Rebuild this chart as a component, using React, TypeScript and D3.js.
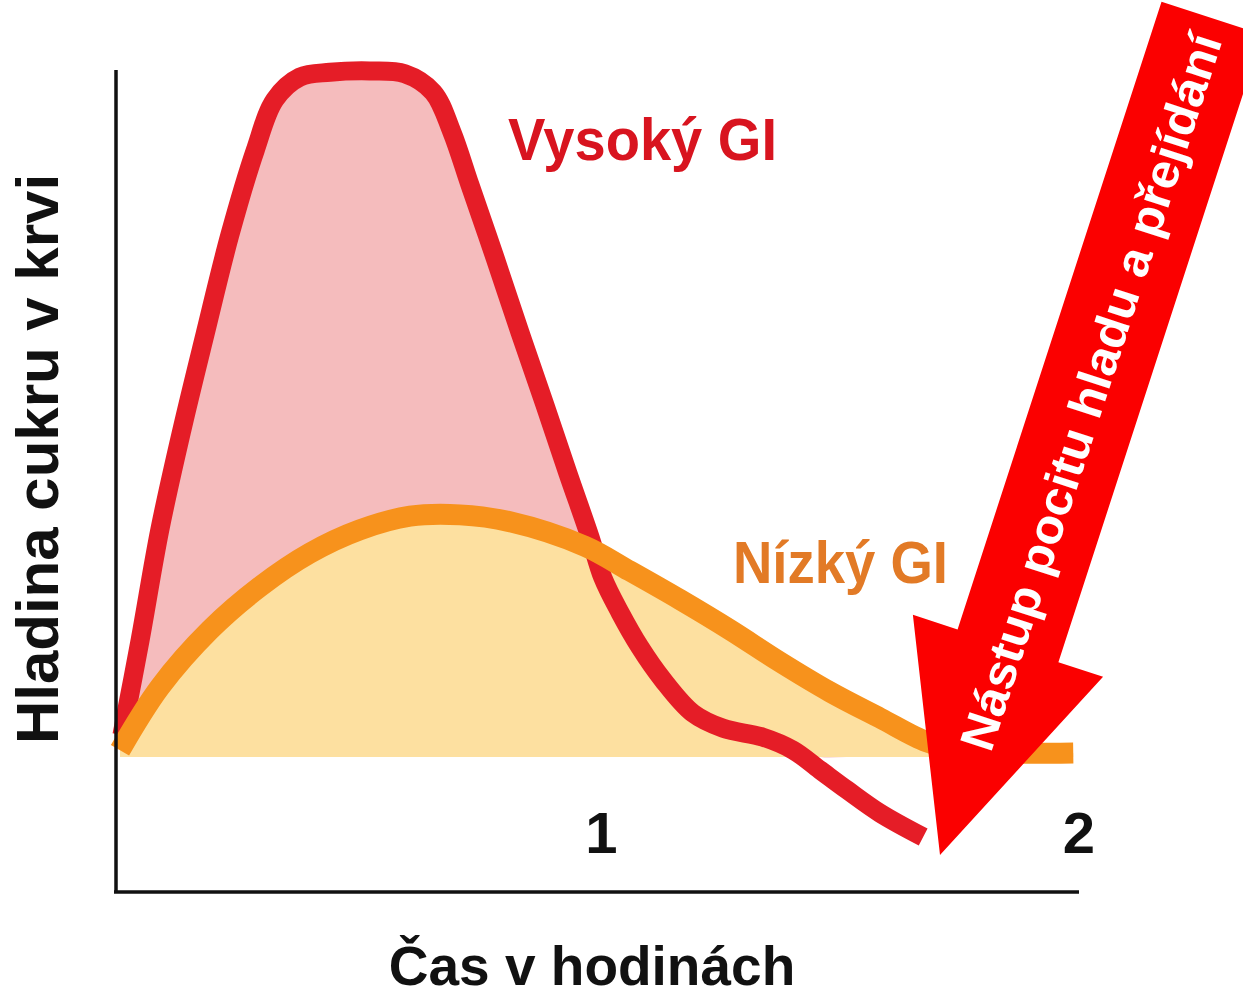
import React, { useEffect, useRef } from 'react';
import * as d3 from 'd3';

// hours after a meal vs. blood sugar (arbitrary units, 0 = fasting level)
const highGiTime = [0.004, 0.042, 0.083, 0.129, 0.177, 0.229, 0.282, 0.323, 0.375, 0.438, 0.521, 0.594, 0.653, 0.692, 0.73, 0.782, 0.834, 0.886, 0.934, 0.98, 1.007, 1.043, 1.084, 1.132, 1.195, 1.258, 1.341, 1.404, 1.46, 1.516, 1.585, 1.675];
const highGiLevel = [3.2, 17.1, 33.2, 47.8, 61.7, 76.3, 88.7, 96.1, 99.4, 100.1, 100.3, 99.9, 97.2, 91.4, 83.6, 73.0, 62.1, 51.5, 41.5, 32.2, 26.2, 21.1, 16.1, 11.3, 6.4, 4.2, 2.9, 1.0, -1.9, -4.8, -8.2, -11.7];

const lowGiTime = [0.0, 0.083, 0.188, 0.292, 0.396, 0.5, 0.605, 0.709, 0.813, 0.97, 1.063, 1.168, 1.272, 1.376, 1.481, 1.585, 1.683, 1.752, 1.835, 1.988];
const lowGiLevel = [1.0, 10.2, 18.6, 24.9, 29.8, 33.2, 35.2, 35.4, 34.4, 30.8, 27.2, 23.0, 18.6, 13.9, 9.5, 5.7, 2.2, 1.0, 0.6, 0.6];

const hourTicks = [1, 2];
const seriesLabels = ['Vysoký GI', 'Nízký GI'];
const arrowText = 'Nástup pocitu hladu a přejídání';
const yTitle = 'Hladina cukru v krvi';
const xTitle = 'Čas v hodinách';

function GlycemicChart({ width = 1243, height = 997 }) {
    const ref = useRef<SVGSVGElement>(null);

    useEffect(() => {
        const svg = d3.select(ref.current);
        svg.selectAll("*").remove();

        const font = "'Liberation Sans', Arial, sans-serif";

        const x = d3.scaleLinear().domain([0, 2]).range([120, 1079]);
        const y = d3.scaleLinear().domain([0, 100]).range([757, 73]);

        const high = highGiTime.map((t, i) => ({ t, v: highGiLevel[i] }));
        const low = lowGiTime.map((t, i) => ({ t, v: lowGiLevel[i] }));

        const curve = d3.curveCatmullRom.alpha(0.5);

        const line = d3.line<{ t: number; v: number }>()
            .x(d => x(d.t))
            .y(d => y(d.v))
            .curve(curve);

        const area = d3.area<{ t: number; v: number }>()
            .x(d => x(d.t))
            .y0(y(0))
            .y1(d => y(Math.max(d.v, 0)))
            .curve(curve);

        svg.attr("width", width).attr("height", height);

        // fills
        svg.append("path").datum(high).attr("d", area).attr("fill", "#f5bcbd");
        svg.append("path").datum(low).attr("d", area).attr("fill", "#fde0a0");

        // curves
        svg.append("path").datum(high).attr("d", line)
            .attr("fill", "none").attr("stroke", "#e51d27").attr("stroke-width", 19);
        svg.append("path").datum(low).attr("d", line)
            .attr("fill", "none").attr("stroke", "#f7921c").attr("stroke-width", 21);

        // axes
        svg.append("line")
            .attr("x1", 116).attr("x2", 116).attr("y1", 70).attr("y2", 893)
            .attr("stroke", "#111").attr("stroke-width", 3.5);
        svg.append("line")
            .attr("x1", 114).attr("x2", x(2)).attr("y1", 892).attr("y2", 892)
            .attr("stroke", "#111").attr("stroke-width", 3.5);

        svg.selectAll(".tick-label")
            .data(hourTicks)
            .enter().append("text")
            .attr("class", "tick-label")
            .attr("x", d => x(d) + (d === 1 ? 2 : 0))
            .attr("y", 853)
            .attr("text-anchor", "middle")
            .attr("font-family", font)
            .attr("font-weight", "bold")
            .attr("font-size", 58)
            .attr("fill", "#111")
            .text(d => d);

        svg.append("text")
            .attr("x", 592).attr("y", 985)
            .attr("text-anchor", "middle")
            .attr("font-family", font).attr("font-weight", "bold").attr("font-size", 55)
            .attr("fill", "#111")
            .text(xTitle);

        svg.append("text")
            .attr("transform", "translate(58,459) rotate(-90)")
            .attr("text-anchor", "middle")
            .attr("font-family", font).attr("font-weight", "bold").attr("font-size", 60)
            .attr("fill", "#111")
            .text(yTitle);

        // series labels
        svg.append("text")
            .attr("x", 508).attr("y", 160)
            .attr("font-family", font).attr("font-weight", "bold").attr("font-size", 60)
            .attr("textLength", 269).attr("lengthAdjust", "spacingAndGlyphs")
            .attr("fill", "#d8141f")
            .text(seriesLabels[0]);
        svg.append("text")
            .attr("x", 733).attr("y", 583)
            .attr("font-family", font).attr("font-weight", "bold").attr("font-size", 60)
            .attr("textLength", 215).attr("lengthAdjust", "spacingAndGlyphs")
            .attr("fill", "#e27a26")
            .text(seriesLabels[1]);

        // big arrow, drawn tip at origin pointing down, then tilted
        const arrow = svg.append("g")
            .attr("transform", "translate(940,855) rotate(18)");
        const shaft = 53, head = 100, headLen = 220, len = 880;
        arrow.append("path")
            .attr("d", `M0,0 L${-head},${-headLen} L${-shaft},${-headLen} L${-shaft},${-len} L${shaft},${-len} L${shaft},${-headLen} L${head},${-headLen} Z`)
            .attr("fill", "#fb0000");
        arrow.append("text")
            .attr("transform", "rotate(-90)")
            .attr("x", 487).attr("y", 17)
            .attr("text-anchor", "middle")
            .attr("font-family", font).attr("font-weight", "bold").attr("font-size", 48)
            .attr("textLength", 750).attr("lengthAdjust", "spacingAndGlyphs")
            .attr("fill", "#fff")
            .text(arrowText);
    }, []);

    return <svg ref={ref} style={{ position: 'absolute', left: 0, top: 0, display: 'block' }}></svg>;
}

export default function App() {
    return <GlycemicChart />;
}
